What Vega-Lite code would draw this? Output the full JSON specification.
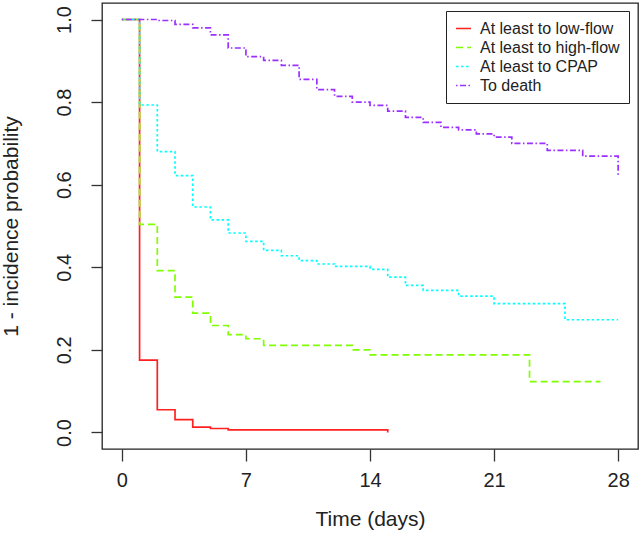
{
  "$schema": "https://vega.github.io/schema/vega-lite/v6.json",
  "width": 536,
  "height": 446,
  "autosize": {"type": "none"},
  "padding": {"left": 102, "top": 3, "right": 1, "bottom": 85},
  "background": "white",
  "config": {
    "font": "Liberation Sans",
    "view": {"stroke": "#222", "strokeWidth": 1.3},
    "axis": {"labelColor": "#222", "titleColor": "#222", "tickColor": "#333", "tickWidth": 1.3, "grid": false, "domain": false, "titleFontWeight": "normal"}
  },
  "data": {
    "values": [
      {"series": "At least to low-flow", "t": 0, "p": 1.0},
      {"series": "At least to low-flow", "t": 1, "p": 0.175},
      {"series": "At least to low-flow", "t": 2, "p": 0.055},
      {"series": "At least to low-flow", "t": 3, "p": 0.031},
      {"series": "At least to low-flow", "t": 4, "p": 0.013},
      {"series": "At least to low-flow", "t": 5, "p": 0.0097},
      {"series": "At least to low-flow", "t": 6, "p": 0.0065},
      {"series": "At least to low-flow", "t": 15, "p": 0.0},
      {"series": "At least to high-flow", "t": 0, "p": 1.0},
      {"series": "At least to high-flow", "t": 1, "p": 0.504},
      {"series": "At least to high-flow", "t": 2, "p": 0.392},
      {"series": "At least to high-flow", "t": 3, "p": 0.328},
      {"series": "At least to high-flow", "t": 4, "p": 0.289},
      {"series": "At least to high-flow", "t": 5, "p": 0.259},
      {"series": "At least to high-flow", "t": 6, "p": 0.237},
      {"series": "At least to high-flow", "t": 7, "p": 0.227},
      {"series": "At least to high-flow", "t": 8, "p": 0.211},
      {"series": "At least to high-flow", "t": 13, "p": 0.2},
      {"series": "At least to high-flow", "t": 14, "p": 0.188},
      {"series": "At least to high-flow", "t": 23, "p": 0.123},
      {"series": "At least to high-flow", "t": 27, "p": 0.123},
      {"series": "At least to CPAP", "t": 0, "p": 1.0},
      {"series": "At least to CPAP", "t": 1, "p": 0.793},
      {"series": "At least to CPAP", "t": 2, "p": 0.68},
      {"series": "At least to CPAP", "t": 3, "p": 0.622},
      {"series": "At least to CPAP", "t": 4, "p": 0.546},
      {"series": "At least to CPAP", "t": 5, "p": 0.515},
      {"series": "At least to CPAP", "t": 6, "p": 0.483},
      {"series": "At least to CPAP", "t": 7, "p": 0.463},
      {"series": "At least to CPAP", "t": 8, "p": 0.441},
      {"series": "At least to CPAP", "t": 9, "p": 0.428},
      {"series": "At least to CPAP", "t": 10, "p": 0.416},
      {"series": "At least to CPAP", "t": 11, "p": 0.408},
      {"series": "At least to CPAP", "t": 12, "p": 0.402},
      {"series": "At least to CPAP", "t": 14, "p": 0.395},
      {"series": "At least to CPAP", "t": 15, "p": 0.376},
      {"series": "At least to CPAP", "t": 16, "p": 0.356},
      {"series": "At least to CPAP", "t": 17, "p": 0.344},
      {"series": "At least to CPAP", "t": 19, "p": 0.33},
      {"series": "At least to CPAP", "t": 21, "p": 0.312},
      {"series": "At least to CPAP", "t": 25, "p": 0.273},
      {"series": "At least to CPAP", "t": 28, "p": 0.273},
      {"series": "To death", "t": 0, "p": 1.0},
      {"series": "To death", "t": 2, "p": 0.9976},
      {"series": "To death", "t": 3, "p": 0.988},
      {"series": "To death", "t": 4, "p": 0.98},
      {"series": "To death", "t": 5, "p": 0.963},
      {"series": "To death", "t": 6, "p": 0.931},
      {"series": "To death", "t": 7, "p": 0.91},
      {"series": "To death", "t": 8, "p": 0.901},
      {"series": "To death", "t": 9, "p": 0.889},
      {"series": "To death", "t": 10, "p": 0.855},
      {"series": "To death", "t": 11, "p": 0.83},
      {"series": "To death", "t": 12, "p": 0.814},
      {"series": "To death", "t": 13, "p": 0.8},
      {"series": "To death", "t": 14, "p": 0.792},
      {"series": "To death", "t": 15, "p": 0.778},
      {"series": "To death", "t": 16, "p": 0.763},
      {"series": "To death", "t": 17, "p": 0.751},
      {"series": "To death", "t": 18, "p": 0.739},
      {"series": "To death", "t": 19, "p": 0.733},
      {"series": "To death", "t": 20, "p": 0.723},
      {"series": "To death", "t": 21, "p": 0.715},
      {"series": "To death", "t": 22, "p": 0.7},
      {"series": "To death", "t": 24, "p": 0.683},
      {"series": "To death", "t": 26, "p": 0.669},
      {"series": "To death", "t": 28, "p": 0.622}
    ]
  },
  "mark": {"type": "line", "interpolate": "step-after", "strokeWidth": 1.7, "clip": true},
  "encoding": {
    "x": {
      "field": "t", "type": "quantitative",
      "scale": {"domain": [-1.12, 29.12], "nice": false, "zero": false},
      "axis": {"values": [0, 7, 14, 21, 28], "tickSize": 12, "labelFontSize": 20, "labelPadding": 9, "title": "Time (days)", "titleFontSize": 21, "titlePadding": 18}
    },
    "y": {
      "field": "p", "type": "quantitative",
      "scale": {"domain": [-0.04, 1.04], "nice": false, "zero": false},
      "axis": {"values": [0, 0.2, 0.4, 0.6, 0.8, 1.0], "format": ".1f", "tickSize": 11, "labelAngle": 270, "labelAlign": "center", "labelBaseline": "bottom", "labelFontSize": 20, "labelPadding": 17, "title": "1 - incidence probability", "titleFontSize": 21, "titlePadding": 33}
    },
    "color": {
      "field": "series", "type": "nominal",
      "scale": {"domain": ["At least to low-flow", "At least to high-flow", "At least to CPAP", "To death"], "range": ["#ff2020", "#7fff00", "#00ffff", "#9b30ff"]},
      "legend": {"orient": "none", "legendX": 344, "legendY": 8, "title": null, "strokeColor": "#222", "fillColor": "white", "padding": 9, "symbolType": "stroke", "symbolSize": 225, "symbolStrokeWidth": 1.5, "labelFontSize": 16, "labelColor": "#222", "rowPadding": 2, "labelOffset": 8, "cornerRadius": 0}
    },
    "strokeDash": {
      "field": "series", "type": "nominal",
      "scale": {"domain": ["At least to low-flow", "At least to high-flow", "At least to CPAP", "To death"], "range": [[1, 0], [7, 4], [2.5, 2.5], [1.5, 2.5, 6, 2.5]]},
      "legend": {"orient": "none", "legendX": 344, "legendY": 8, "title": null, "strokeColor": "#222", "fillColor": "white", "padding": 9, "symbolType": "stroke", "symbolSize": 225, "symbolStrokeWidth": 1.5, "labelFontSize": 16, "labelColor": "#222", "rowPadding": 2, "labelOffset": 8, "cornerRadius": 0}
    }
  }
}
